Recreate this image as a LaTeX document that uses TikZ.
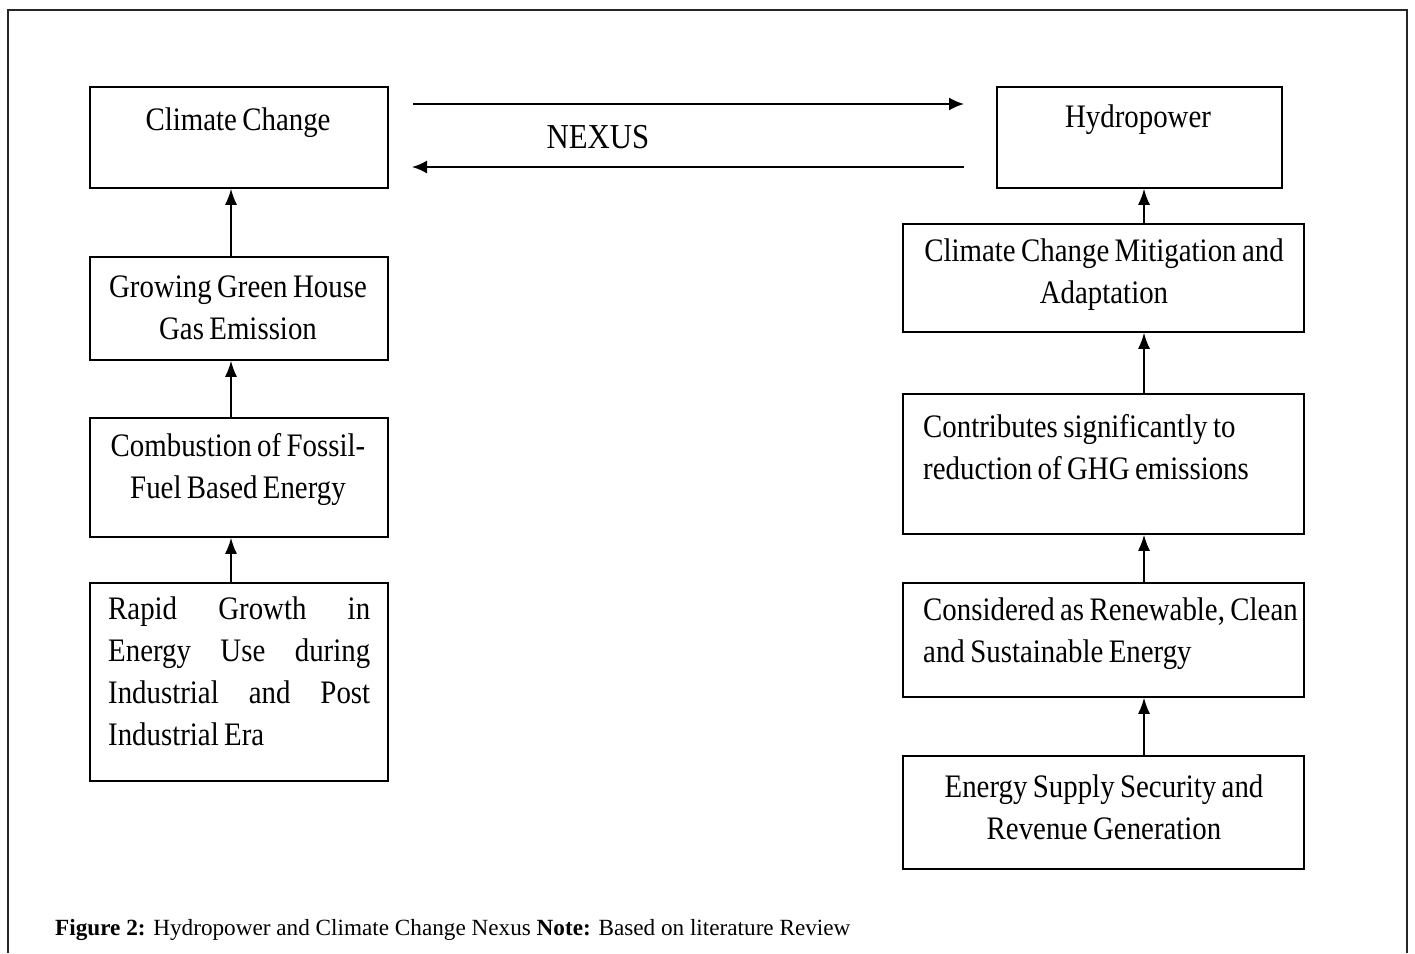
\documentclass[tikz,border=0pt]{standalone}
\usepackage{fontspec}
\setmainfont{Liberation Serif}
\newfontfamily\boxfont[FakeStretch=0.88,WordSpace=0.75]{Liberation Serif}
\usetikzlibrary{arrows.meta}
\begin{document}
\begin{tikzpicture}[x=1pt,y=-1pt,
  box/.style={draw, line width=1.6pt, inner sep=0pt},
  txt/.style={font=\boxfont\fontsize{32.8}{42}\selectfont, inner sep=0pt, align=center},
  up/.style={line width=1.5pt, -{Latex[length=16pt,width=12pt]}},
  nx/.style={line width=1.8pt, -{Latex[length=15pt,width=13pt]}}]
\useasboundingbox (0,0) rectangle (1415,953);
\fill[white] (0,0) rectangle (1415,953);
% frame
\draw[line width=1.2pt, draw=black!85] (8,953) -- (8,10) -- (1407,10) -- (1407,953);
% left column boxes
\node[box, minimum width=298, minimum height=101] (cc) at (239,137.5) {};
\node[box, minimum width=298, minimum height=103] (gg) at (239,308.5) {};
\node[box, minimum width=298, minimum height=119] (cf) at (239,477.5) {};
\node[box, minimum width=298, minimum height=198] (rg) at (239,682) {};
% right column boxes
\node[box, minimum width=285, minimum height=101] (hp) at (1139.5,137.5) {};
\node[box, minimum width=401, minimum height=108] (cm) at (1103.5,278) {};
\node[box, minimum width=401, minimum height=140] (cs) at (1103.5,464) {};
\node[box, minimum width=401, minimum height=114] (cr) at (1103.5,640) {};
\node[box, minimum width=401, minimum height=113] (es) at (1103.5,812.5) {};
% texts
\node[txt] (cct) at (238,123) {Climate Change};
\node[txt] (hpt) at (1138,120) {Hydropower};
\node[txt] (ggt) at (238,308) {Growing Green House\\Gas Emission};
\node[txt] (cft) at (238,469) {Combustion of Fossil-\\Fuel Based Energy};
\node[txt, align=left, anchor=north west] (rgt) at (108,597) {%
\makebox[262pt][s]{Rapid Growth in}\\
\makebox[262pt][s]{Energy Use during}\\
\makebox[262pt][s]{Industrial and Post}\\
Industrial Era};
\node[txt] (cmt) at (1104,275) {Climate Change Mitigation and\\Adaptation};
\node[txt, align=left, anchor=west] (cst) at (923,447) {Contributes significantly to\\reduction of GHG emissions};
\node[txt, align=left, anchor=west] (crt) at (923,634) {Considered as Renewable, Clean\\and Sustainable Energy};
\node[txt] (est) at (1104,807) {Energy Supply Security and\\Revenue Generation};
\node[txt, font=\boxfont\fontsize{35}{42}\selectfont] (nexus) at (598,137) {NEXUS};
% vertical arrows
\draw[up] (rg.north -| 231,0) -- (cf.south -| 231,0);
\draw[up] (cf.north -| 231,0) -- (gg.south -| 231,0);
\draw[up] (gg.north -| 231,0) -- (cc.south -| 231,0);
\draw[up] (es.north -| 1144,0) -- (cr.south -| 1144,0);
\draw[up] (cr.north -| 1144,0) -- (cs.south -| 1144,0);
\draw[up] (cs.north -| 1144,0) -- (cm.south -| 1144,0);
\draw[up] (cm.north -| 1144,0) -- (hp.south -| 1144,0);
% nexus arrows
\coordinate (a1) at (413,104);
\coordinate (a2) at (964,104);
\coordinate (b1) at (964,167);
\coordinate (b2) at (412,167);
\draw[nx] (a1) -- (a2);
\draw[nx] (b1) -- (b2);
% caption
\node[anchor=base west, inner sep=0pt, font=\fontsize{23.2}{26}\selectfont] (cap) at (55,935) {\textbf{Figure 2:} Hydropower and Climate Change Nexus \textbf{Note:} Based on literature Review};
\end{tikzpicture}
\end{document}
